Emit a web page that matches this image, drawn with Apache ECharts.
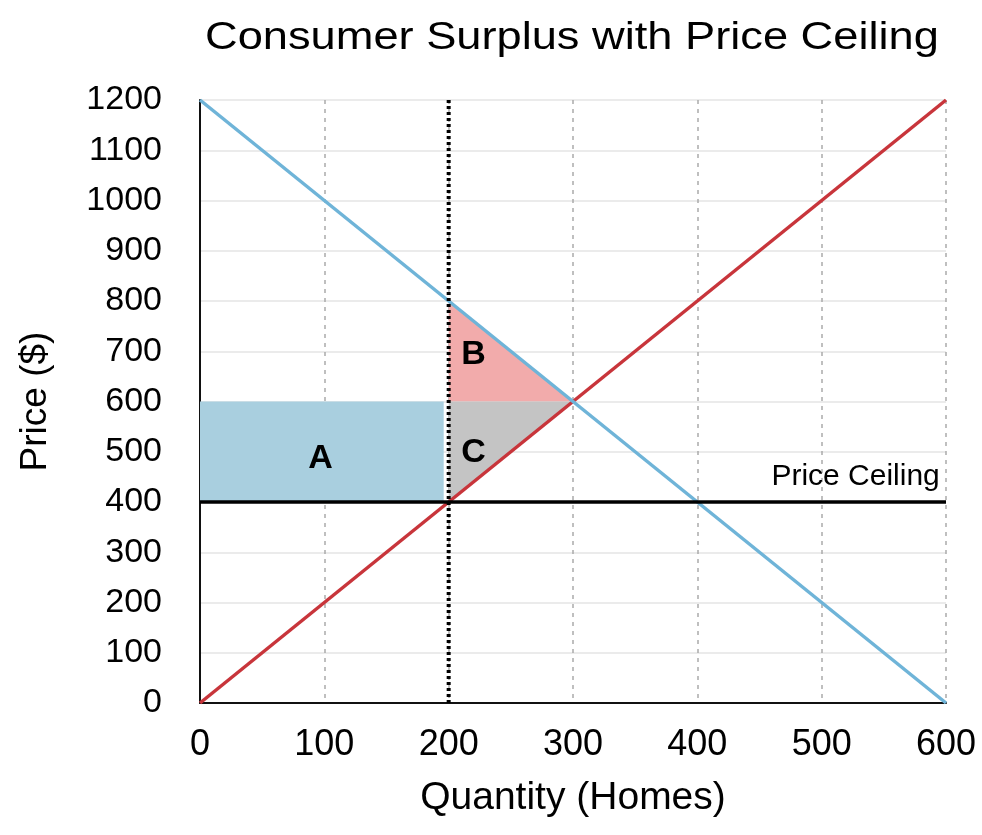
<!DOCTYPE html>
<html>
<head>
<meta charset="utf-8">
<script src="https://cdn.jsdelivr.net/npm/echarts@6/dist/echarts.min.js"></script>
<style>
  html, body { margin: 0; padding: 0; background: #fff; }
  #main { width: 982px; height: 835px; }
</style>
</head>
<body>
<div id="main"></div>
<script>
// curves
const demand = [[0, 1200], [600, 0]];
const supply = [[0, 0], [600, 1200]];
const ceilingLine = [[0, 400], [600, 400]];
const quantityLine = [[200, 0], [200, 1200]];

// shaded regions
const areaA = [[0, 600], [196, 600], [196, 400], [0, 400]];
const areaB = [[200, 800], [200, 600], [300, 600]];
const areaC = [[200, 600], [200, 400], [300, 600]];

// text marks
const regionLabels = [[97, 487, 'A'], [220, 694, 'B'], [220, 499, 'C']];
const ceilingLabel = [[595, 450, 'Price Ceiling']];

const FONT = '"Liberation Sans", Arial, Helvetica, sans-serif';

function polygonSeries(pts, color) {
  return {
    type: 'custom',
    data: pts,
    z: 1,
    silent: true,
    renderItem: function (params, api) {
      if (params.dataIndex !== 0) return;
      const points = pts.map(p => api.coord(p));
      return {
        type: 'polygon',
        shape: { points: points },
        style: { fill: color }
      };
    }
  };
}

const chart = echarts.init(document.getElementById('main'));

chart.setOption({
  animation: false,
  backgroundColor: '#fff',
  // title stretched a bit wider like the source picture
  graphic: [{
    type: 'text',
    x: 205, y: 20,
    scaleX: 1.19,
    style: {
      text: 'Consumer Surplus with Price Ceiling',
      font: 'normal 38px ' + FONT,
      fill: '#000'
    }
  }],
  grid: { left: 200, right: 36, top: 100, bottom: 132 },
  xAxis: {
    type: 'value',
    min: 0, max: 600, interval: 100,
    name: 'Quantity (Homes)',
    nameLocation: 'middle',
    nameGap: 76,
    nameTextStyle: { fontFamily: FONT, fontSize: 39, color: '#000' },
    axisLine: { lineStyle: { color: '#111', width: 2 } },
    axisTick: { show: false },
    axisLabel: { fontFamily: FONT, fontSize: 36, color: '#000', margin: 24 },
    splitLine: { show: true, lineStyle: { color: '#aaa', width: 1.5, type: [4, 5] } }
  },
  yAxis: {
    type: 'value',
    min: 0, max: 1200, interval: 100,
    name: 'Price ($)',
    nameLocation: 'middle',
    nameRotate: 90,
    nameGap: 146,
    nameTextStyle: { fontFamily: FONT, fontSize: 37, color: '#000' },
    axisLine: { show: true, lineStyle: { color: '#111', width: 2 } },
    axisTick: { show: false },
    axisLabel: { fontFamily: FONT, fontSize: 34, color: '#000', margin: 38, formatter: v => String(v) },
    splitLine: { show: true, lineStyle: { color: '#e4e4e4', width: 1.5 } }
  },
  series: [
    polygonSeries(areaA, '#a9cfdf'),
    polygonSeries(areaB, '#f2abab'),
    polygonSeries(areaC, '#c4c4c4'),
    {
      type: 'line', data: supply, symbol: 'none', z: 3, silent: true,
      lineStyle: { color: '#c8353b', width: 3.5 }
    },
    {
      type: 'line', data: demand, symbol: 'none', z: 4, silent: true,
      lineStyle: { color: '#6fb4d8', width: 3.5 }
    },
    {
      type: 'line', data: ceilingLine, symbol: 'none', z: 5, silent: true,
      lineStyle: { color: '#000', width: 3.5 }
    },
    {
      type: 'line', data: quantityLine, symbol: 'none', z: 6, silent: true,
      lineStyle: { color: '#000', width: 4, type: [3, 3] }
    },
    {
      type: 'scatter', data: regionLabels, symbolSize: 0, z: 7, silent: true,
      itemStyle: { opacity: 1 },
      label: {
        show: true, position: 'inside',
        formatter: p => p.value[2],
        fontFamily: FONT, fontSize: 34, fontWeight: 'bold', color: '#000'
      }
    },
    {
      type: 'scatter', data: ceilingLabel, symbolSize: 0, z: 7, silent: true,
      itemStyle: { opacity: 1 },
      label: {
        show: true, position: 'left', distance: 0,
        formatter: p => p.value[2],
        fontFamily: FONT, fontSize: 30, color: '#000'
      }
    }
  ]
});
</script>
</body>
</html>
